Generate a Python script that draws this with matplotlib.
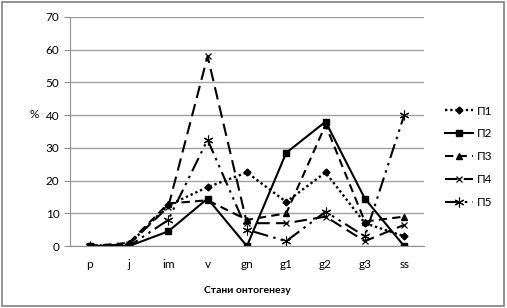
import matplotlib
matplotlib.use("Agg")
import matplotlib.pyplot as plt
from matplotlib.patches import Rectangle

plt.rcParams['font.family'] = ['Lato', 'DejaVu Sans']

stages = ["p", "j", "im", "v", "gn", "g1", "g2", "g3", "ss"]

p1 = [0, 0.5, 12.5, 18, 22.5, 13.5, 22.5, 7, 3]
p2 = [0, 0, 4.5, 14.5, 0, 28.5, 38, 14.5, 0]
p3 = [0, 1, 13, 14, 8, 10, 37, 7.5, 9]
p4 = [0, 0.5, 12, 58, 7, 7, 9, 1.5, 6.5]
p5 = [0, 0, 8, 32.5, 5, 1.5, 10.5, 3, 40]

names = ["П1", "П2", "П3", "П4", "П5"]

fig = plt.figure(figsize=(5.07, 3.08), dpi=100)
ax = fig.add_axes([0.138, 0.201, 0.698, 0.744])

x = range(len(stages))
ax.plot(x, p1, color="black", lw=1.7, ls=(0, (1, 1.2)), marker="D", ms=3.5, label=names[0])
ax.plot(x, p2, color="black", lw=1.5, ls="-", marker="s", ms=4, label=names[1])
ax.plot(x, p3, color="black", lw=1.5, ls=(0, (4, 2.5)), marker="^", ms=4.5, label=names[2])
ax.plot(x, p4, color="black", lw=1.5, ls=(0, (6, 3)), marker="x", ms=5, mew=0.9, label=names[3])
ax.plot(x, p5, color="black", lw=1.5, ls=(0, (7, 2.5, 1.2, 2.5, 1.2, 2.5)), marker=(6, 2, 0), ms=7, mew=0.8, label=names[4])

ax.set_xlim(-0.5, len(stages) - 0.5)
ax.set_ylim(0, 70)
ax.set_yticks(range(0, 71, 10))
ax.set_xticks(list(x))
ax.set_xticklabels(stages)
ax.yaxis.grid(True, color="#a0a0a0", lw=1)
ax.set_axisbelow(True)
for s in ["top", "right"]:
    ax.spines[s].set_visible(False)
ax.spines["left"].set_color("#909090")
ax.spines["bottom"].set_color("#909090")
ax.tick_params(axis="y", length=4, color="#909090", labelsize=8.5)
ax.tick_params(axis="x", length=0, labelsize=8.5, pad=9)

ax.set_ylabel("%", rotation=0, fontsize=8.5, labelpad=14)
ax.yaxis.set_label_coords(-0.1, 0.55)
ax.set_xlabel("Стани онтогенезу", fontsize=7.5, fontweight="bold", labelpad=12)

ax.legend(loc="center left", bbox_to_anchor=(1.03, 0.39), frameon=False, fontsize=8.5,
          handlelength=2.4, labelspacing=1.0, handletextpad=0.3)

fig.patches.append(Rectangle((0.004, 0.006), 0.99, 0.986, transform=fig.transFigure,
                             fill=False, edgecolor="#808080", lw=1.2))

fig.savefig("out.png", dpi=100)
